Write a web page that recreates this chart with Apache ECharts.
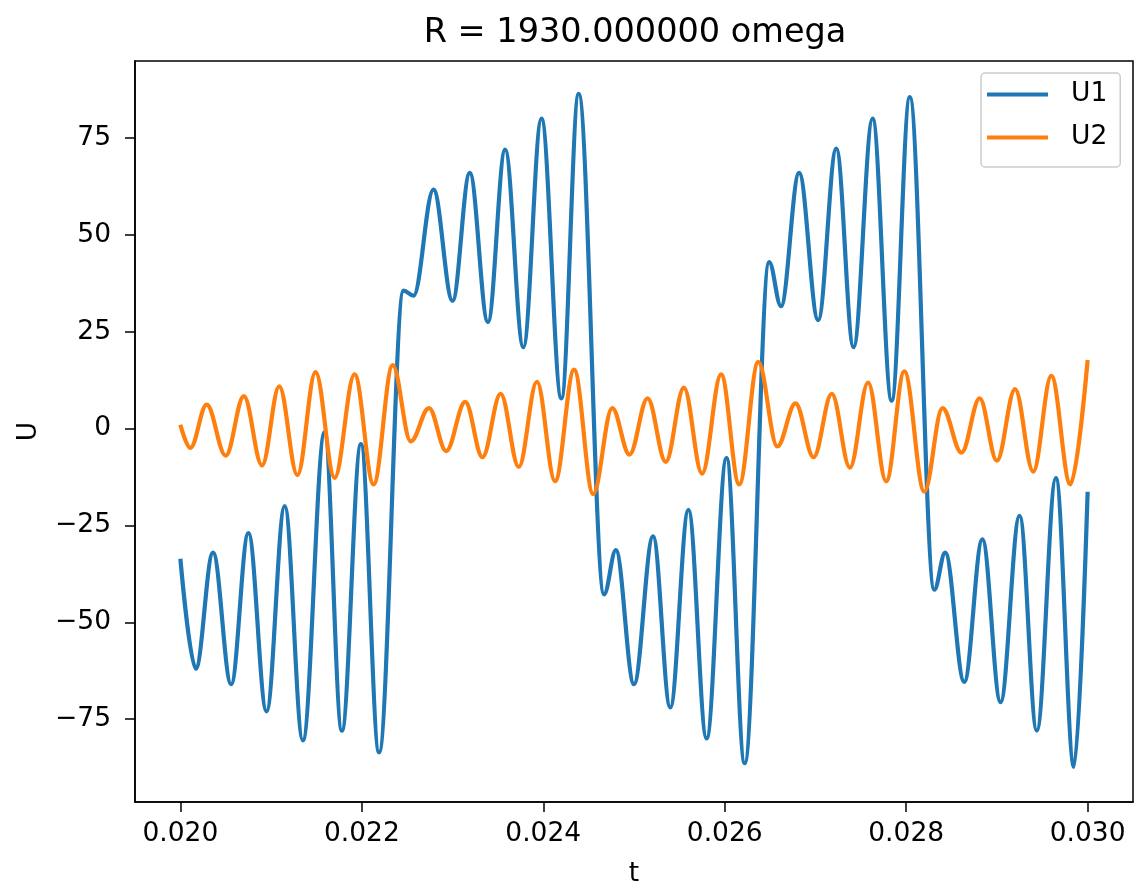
<!DOCTYPE html>
<html>
<head>
<meta charset="utf-8">
<script src="https://cdn.jsdelivr.net/npm/echarts@6/dist/echarts.min.js"></script>
<style>
  html, body { margin: 0; padding: 0; background: #fff; }
  #chart { width: 1135px; height: 886px; }
</style>
</head>
<body>
<div id="chart"></div>
<script>
// peaks / troughs (t in s, U)
var u1Time = [0.02000, 0.02017, 0.02036, 0.02056, 0.02075, 0.02095, 0.02115, 0.02135, 0.02159, 0.02178,
  0.02199, 0.02219, 0.02246, 0.02257, 0.02279, 0.02300, 0.02319, 0.02339, 0.02358, 0.02378,
  0.02398, 0.02420, 0.02439, 0.02467, 0.02480, 0.02500, 0.02521, 0.02540, 0.02560, 0.02580,
  0.02602, 0.02622, 0.02649, 0.02662, 0.02682, 0.02703, 0.02723, 0.02742, 0.02763, 0.02784,
  0.02804, 0.02831, 0.02843, 0.02864, 0.02884, 0.02904, 0.02925, 0.02944, 0.02965, 0.02985, 0.03000];
var u1Values = [-33.6, -62, -32, -66, -27, -73, -20, -80.5, -1, -78,
  -4, -83.6, 35.6, 34.3, 61.7, 33, 66, 27.5, 72, 21,
  80, 7.8, 86.4, -42.8, -31.4, -66, -27.8, -72, -21, -80,
  -7.6, -86.4, 43, 31.6, 66, 28, 72.3, 21, 80, 7.2,
  85.6, -41.6, -32, -65.4, -28.6, -70.6, -22.5, -78, -12.8, -87.3, -16.3];

var u2Time = [0.02000, 0.02011, 0.02029, 0.02050, 0.02070, 0.02090, 0.02109, 0.02129, 0.02149, 0.02170,
  0.02192, 0.02213, 0.02234, 0.02254, 0.02274, 0.02293, 0.02314, 0.02333, 0.02353, 0.02373,
  0.02393, 0.02413, 0.02434, 0.02455, 0.02476, 0.02495, 0.02515, 0.02535, 0.02555, 0.02575,
  0.02596, 0.02616, 0.02637, 0.02658, 0.02678, 0.02698, 0.02718, 0.02738, 0.02758, 0.02778,
  0.02798, 0.02820, 0.02840, 0.02861, 0.02881, 0.02900, 0.02920, 0.02940, 0.02960, 0.02981, 0.03000];
var u2Values = [1, -5, 6.2, -7, 8.4, -9.5, 10.9, -12, 14.6, -12.7,
  14, -14.4, 16.4, -3.3, 5.3, -5.8, 6.9, -7.4, 9, -9.9,
  12.1, -13.6, 15.2, -16.9, 5.3, -6.7, 7.8, -8.6, 10.6, -11.6,
  14, -14.4, 17.2, -4.6, 6.5, -7.4, 9, -10.1, 11.9, -13.6,
  14.8, -16.3, 5.3, -6.2, 7.8, -8.3, 10.2, -11.1, 13.6, -14.4, 17.7];

var xTicks = [0.020, 0.022, 0.024, 0.026, 0.028, 0.030];
var yTicks = [-75, -50, -25, 0, 25, 50, 75];

var font = "DejaVu Sans";

function pairs(xs, ys) {
  var out = [];
  for (var i = 0; i < xs.length; i++) {
    out.push([xs[i], ys[i]]);
  }
  return out;
}

var chart = echarts.init(document.getElementById("chart"));

var option = {
  animation: false,
  backgroundColor: "#fff",
  title: {
    text: "R = 1930.000000 omega",
    left: 630,
    top: 11,
    textAlign: "center",
    textStyle: { fontFamily: font, fontSize: 33.5, fontWeight: "normal", color: "#000" },
  },
  legend: {
    orient: "vertical",
    left: 981,
    top: 73,
    data: ["U1", "U2"],
    icon: "rect",
    itemWidth: 61,
    itemHeight: 4,
    itemGap: 16,
    padding: [8, 13, 16, 6],
    backgroundColor: "rgba(255,255,255,0.8)",
    borderColor: "#cccccc",
    borderWidth: 1.5,
    borderRadius: 4,
    textStyle: { fontFamily: font, fontSize: 26.5, color: "#000", padding: [0, 0, 0, 18] },
  },
  grid: {
    left: 135,
    right: 2,
    top: 61,
    bottom: 84,
    show: true,
    borderColor: "#000",
    borderWidth: 1.5,
    containLabel: false,
    outerBoundsMode: "none",
  },
  xAxis: {
    type: "value",
    min: 0.0195,
    max: 0.0305,
    name: "t",
    nameLocation: "middle",
    nameGap: 59,
    nameTextStyle: { fontFamily: font, fontSize: 26.5, color: "#000" },
    splitLine: { show: false },
    axisLine: { show: true, onZero: false, lineStyle: { color: "#000", width: 1.5 } },
    axisTick: { show: true, length: 10, lineStyle: { color: "#000", width: 1.5 }, customValues: xTicks },
    axisLabel: {
      customValues: xTicks,
      margin: 19,
      fontFamily: font,
      fontSize: 26.5,
      color: "#000",
      formatter: function (v) { return v.toFixed(3); },
    },
  },
  yAxis: {
    type: "value",
    min: -96.4,
    max: 94.9,
    name: "U",
    nameLocation: "middle",
    nameGap: 92,
    nameRotate: 90,
    nameTextStyle: { fontFamily: font, fontSize: 26.5, color: "#000" },
    splitLine: { show: false },
    axisLine: { show: true, onZero: false, lineStyle: { color: "#000", width: 1.5 } },
    axisTick: { show: true, length: 10, lineStyle: { color: "#000", width: 1.5 }, customValues: yTicks },
    axisLabel: {
      customValues: yTicks,
      margin: 24,
      fontFamily: font,
      fontSize: 26.5,
      color: "#000",
      formatter: function (v) { return v < 0 ? "\u2212" + Math.abs(v) : String(v); },
    },
  },
  series: [
    {
      name: "U1",
      type: "line",
      data: pairs(u1Time, u1Values),
      smooth: 0.36,
      smoothMonotone: "x",
      symbol: "none",
      color: "#1f77b4",
      lineStyle: { width: 4.2, color: "#1f77b4" },
    },
    {
      name: "U2",
      type: "line",
      data: pairs(u2Time, u2Values),
      smooth: 0.36,
      smoothMonotone: "x",
      symbol: "none",
      color: "#ff7f0e",
      lineStyle: { width: 4.2, color: "#ff7f0e" },
    },
  ],
};

chart.setOption(option);

window.addEventListener("resize", function () {
  chart.resize();
});
</script>
</body>
</html>
